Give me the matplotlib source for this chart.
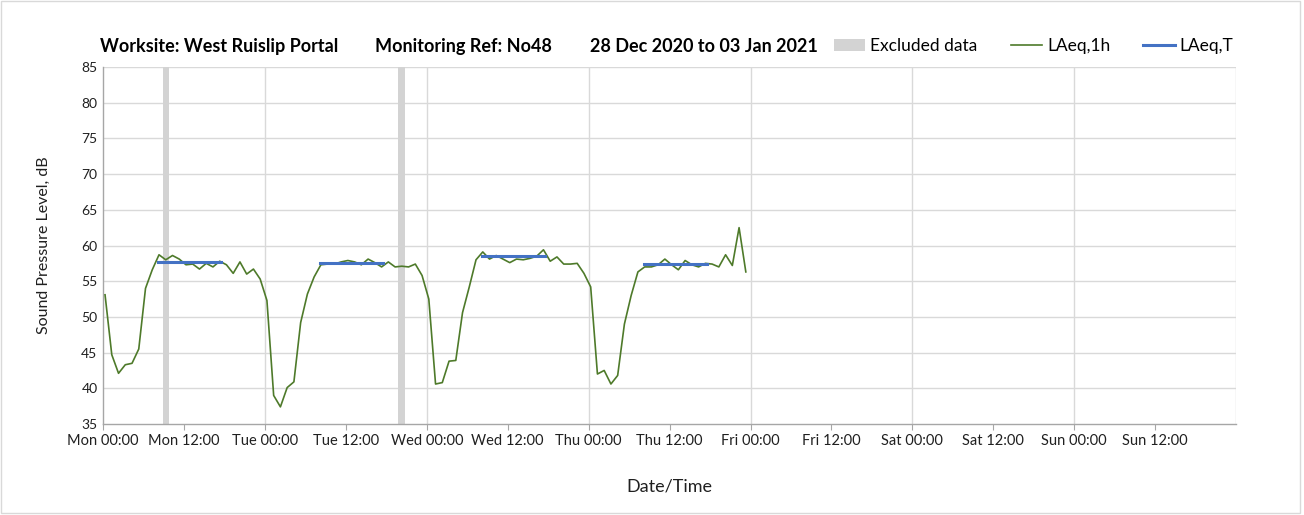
import matplotlib
matplotlib.use("Agg")
import matplotlib.pyplot as plt
from matplotlib.patches import Patch, Rectangle
from matplotlib.lines import Line2D
import numpy as np

plt.rcParams['font.family'] = ['Lato', 'DejaVu Sans']

# hourly LAeq,1h values, Mon 00:00 onwards
laeq_1h = [
    53.1, 44.7, 42.1, 43.3, 43.5, 45.5, 54.0, 56.6, 58.7, 58.0, 58.6, 58.1,
    57.3, 57.4, 56.7, 57.5, 57.0, 57.8, 57.3, 56.1, 57.7, 56.0, 56.7, 55.3,
    52.3, 39.0, 37.4, 40.1, 40.9, 49.2, 53.2, 55.6, 57.3, 57.4, 57.4, 57.7,
    57.9, 57.7, 57.3, 58.1, 57.6, 57.0, 57.7, 57.0, 57.1, 57.0, 57.4, 55.8,
    52.5, 40.6, 40.8, 43.8, 43.9, 50.6, 54.2, 58.0, 59.1, 58.1, 58.6, 58.1,
    57.6, 58.1, 58.0, 58.2, 58.5, 59.4, 57.8, 58.4, 57.4, 57.4, 57.5, 56.1,
    54.2, 42.0, 42.5, 40.6, 41.8, 49.0, 53.0, 56.3, 57.0, 57.0, 57.3, 58.1,
    57.3, 56.6, 57.9, 57.3, 57.0, 57.5, 57.4, 57.0, 58.7, 57.2, 62.5, 56.3,
]
first_hour = 0.3
hours = first_hour + np.arange(len(laeq_1h))

# LAeq,T per day (day index, value), daytime period
laeq_t_days = [0, 1, 2, 3]
laeq_t_vals = [57.7, 57.6, 58.5, 57.4]
laeq_t_start = 8.2
laeq_t_end = 17.5

# excluded periods (start hour, end hour)
excluded = [(8.9, 9.8), (43.8, 44.8)]

tick_labels = ['Mon 00:00', 'Mon 12:00', 'Tue 00:00', 'Tue 12:00', 'Wed 00:00',
               'Wed 12:00', 'Thu 00:00', 'Thu 12:00', 'Fri 00:00', 'Fri 12:00',
               'Sat 00:00', 'Sat 12:00', 'Sun 00:00', 'Sun 12:00']

title_parts = ['Worksite: West Ruislip Portal', 'Monitoring Ref: No48',
               '28 Dec 2020 to 03 Jan 2021']

green = '#4E7A2A'
blue = '#4472C4'
grey_band = '#D3D3D3'
grid_c = '#D9D9D9'

fig = plt.figure(figsize=(13.04, 5.15), dpi=100)
ax = fig.add_axes([0.079, 0.1767, 0.869, 0.6932])

for s, e in excluded:
    ax.axvspan(s, e, color=grey_band, lw=0, zorder=1)

ax.plot(hours, laeq_1h, color=green, lw=1.2, zorder=3)
for d, v in zip(laeq_t_days, laeq_t_vals):
    ax.plot([d * 24 + laeq_t_start, d * 24 + laeq_t_end], [v, v], color=blue, lw=2.2, zorder=4)

ax.set_xlim(0, 168)
ax.set_ylim(35, 85)
ax.set_yticks(np.arange(35, 86, 5))
ax.set_xticks(np.arange(0, 168, 12))
ax.set_xticklabels(tick_labels)
ax.tick_params(axis='both', labelsize=10.5, color='#A6A6A6', labelcolor='#202020',
               length=4, width=0.8)
ax.tick_params(axis='x', pad=3)
ax.tick_params(axis='y', labelsize=10, length=0, pad=4)

for y in np.arange(40, 86, 5):
    ax.axhline(y, color=grid_c, lw=1, zorder=0)
for x in np.arange(24, 169, 24):
    ax.axvline(x, color=grid_c, lw=1, zorder=0)

for side in ['top', 'right']:
    ax.spines[side].set_visible(False)
for side in ['left', 'bottom']:
    ax.spines[side].set_color('#A6A6A6')
    ax.spines[side].set_linewidth(1)

ax.set_ylabel('Sound Pressure Level, dB', fontsize=11.5, labelpad=22, color='#202020')
ax.set_xlabel('Date/Time', fontsize=13, labelpad=22, color='#202020')

for txt, xf in zip(title_parts, [0.077, 0.2875, 0.4525]):
    fig.text(xf, 0.91, txt, fontsize=13, fontweight='bold', va='center', ha='left')

handles = [Patch(facecolor=grey_band, edgecolor='none'),
           Line2D([], [], color=green, lw=1.2),
           Line2D([], [], color=blue, lw=2.2)]
fig.legend(handles, ['Excluded data', 'LAeq,1h', 'LAeq,T'], loc='center right',
           bbox_to_anchor=(0.958, 0.91), ncol=3, frameon=False, fontsize=12.5,
           handlelength=1.8, handletextpad=0.3, columnspacing=1.9)

fig.patches.append(Rectangle((0.001, 0.004), 0.996, 0.994, transform=fig.transFigure,
                             fill=False, edgecolor='#D9D9D9', lw=1))

fig.savefig('out.png', dpi=100)
